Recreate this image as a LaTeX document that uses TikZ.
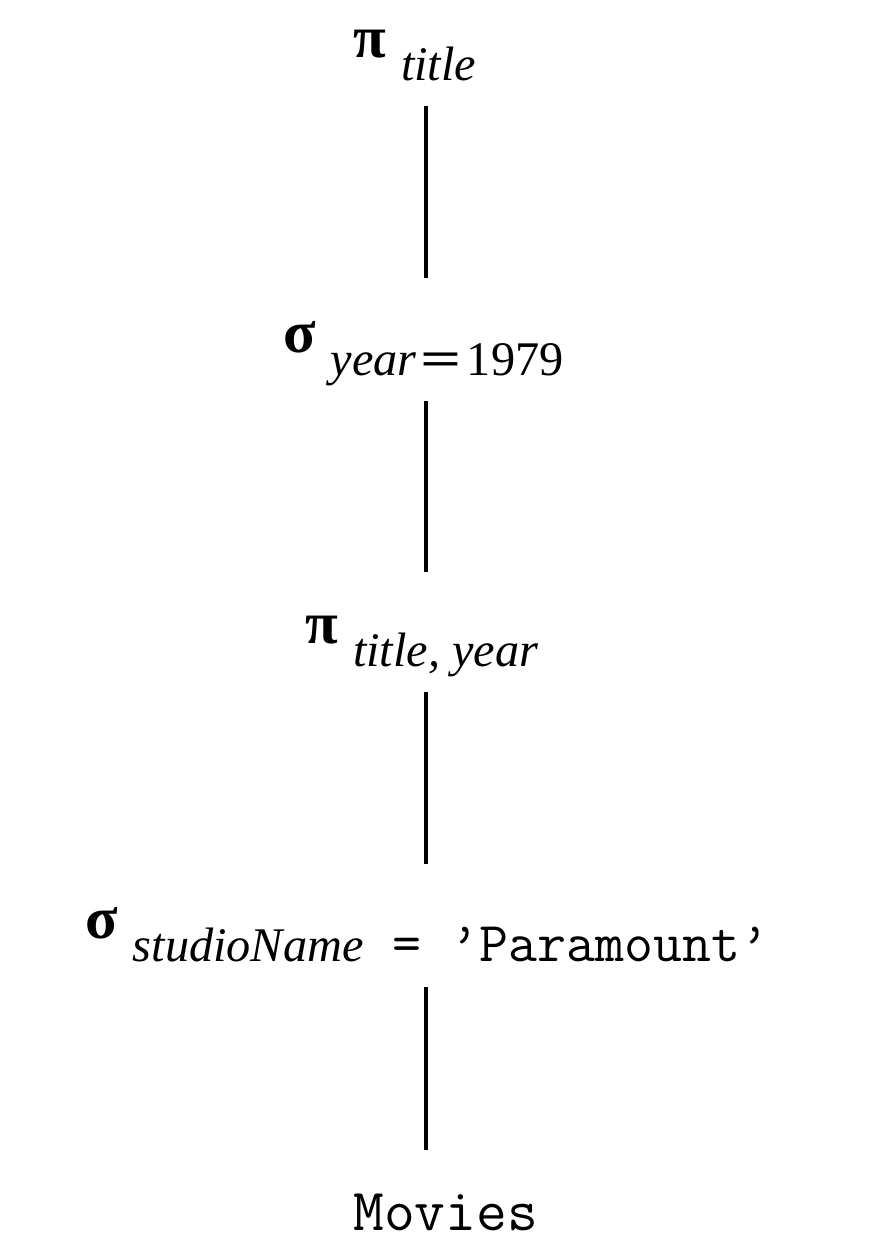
\documentclass[tikz,border=0pt]{standalone}
\usepackage{fontspec}
\setmainfont{Liberation Serif}
\newcommand\opsym[1]{{\fontsize{34}{40}\selectfont\bfseries #1}}
\newcommand\opsub[1]{\hspace{8.5pt}\raisebox{-13.6pt}[0pt][13.6pt]{\fontsize{27.5}{33}\selectfont #1}}
\tikzset{
  op/.style={inner sep=0pt, anchor=base west},
  rel/.style={inner sep=0pt, anchor=base west, font=\fontsize{34}{40}\selectfont\ttfamily},
  link/.style={line width=1.8pt, shorten <=0.5cm, shorten >=0.86cm}
}

\begin{document}
\begin{tikzpicture}[x=0.02cm, y=-0.02cm]
  \useasboundingbox (0,0) rectangle (878,1258);
  \coordinate (spine) at (426,0);
  \node[op] (projtitle) at (353,57) {\opsym{π}\opsub{\itshape title}};
  \node[op] (selyear) at (283,352) {\opsym{σ}\opsub{\textit{year}\kern2pt\scalebox{1.5}[1]{\bfseries =}\kern3pt 1979}};
  \node[op] (projty) at (305,643) {\opsym{π}\opsub{\itshape title, year}};
  \node[op] (selstudio) at (85,938) {\opsym{σ}\opsub{\textit{studioName}{\fontsize{32}{38}\selectfont\ttfamily\ = ’Paramount’}}};
  \node[rel] (movies) at (353,1230) {Movies};
  \foreach \a/\b in {projtitle/selyear, selyear/projty, projty/selstudio, selstudio/movies}
    \draw[link] (\a.south -| spine) -- (\b.north -| spine);
\end{tikzpicture}
\end{document}
